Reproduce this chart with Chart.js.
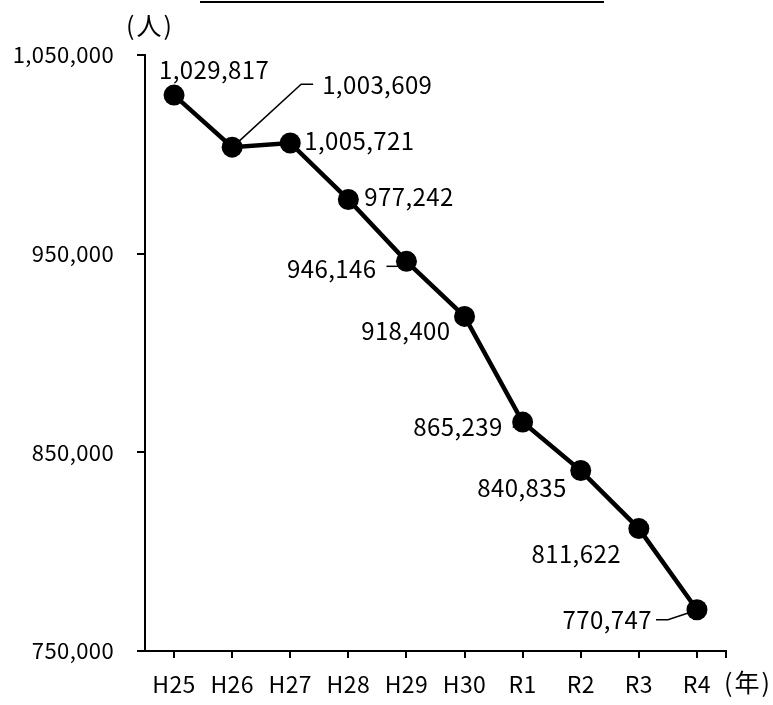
<!DOCTYPE html>
<html lang="ja">
<head>
<meta charset="utf-8">
<script src="https://cdn.jsdelivr.net/npm/chart.js@4"></script>
<style>
  body { margin: 0; background: #fff; }
  canvas { display: block; }
</style>
</head>
<body>
<canvas id="chart" width="773" height="705"></canvas>
<script>
// 年度と人数
const categories = ['H25', 'H26', 'H27', 'H28', 'H29', 'H30', 'R1', 'R2', 'R3', 'R4'];
const population = [1029817, 1003609, 1005721, 977242, 946146, 918400, 865239, 840835, 811622, 770747];
const yTicks = [750000, 850000, 950000, 1050000];

// ラベルの置き場所（点からのずれ、揃え）
const labelPlace = [
  [-15, -25, 'left'],
  [90, -62, 'left'],
  [14, -2, 'left'],
  [16, -3, 'left'],
  [-30, 8, 'right'],
  [-14, 14, 'right'],
  [-20, 5, 'right'],
  [-14, 17, 'right'],
  [-18, 25, 'right'],
  [-45, 10, 'right']
];
// 引き出し線（点からのずれ）
const leaders = {
  1: [[7, -6], [69, -63], [81, -63]],
  4: [[-20, 5], [-7, 5]],
  6: [[-10, 5], [-2, 5]],
  9: [[-41, 10], [-29, 10], [-8, 3]]
};

const FAMILY = '"Noto Sans CJK JP", "Noto Sans", sans-serif';
const fmt = v => v.toLocaleString('en-US');

const extras = {
  id: 'extras',
  beforeDraw(chart) {
    chart.ctx.letterSpacing = '0.4px';
  },
  afterDatasetsDraw(chart) {
    const ctx = chart.ctx;
    const meta = chart.getDatasetMeta(0);
    ctx.save();
    ctx.fillStyle = '#000';
    ctx.strokeStyle = '#000';
    ctx.font = '24px ' + FAMILY;
    ctx.textBaseline = 'middle';

    meta.data.forEach((pt, i) => {
      const [dx, dy, align] = labelPlace[i];
      ctx.textAlign = align;
      ctx.fillText(fmt(population[i]), pt.x + dx, pt.y + dy);
      const ld = leaders[i];
      if (ld) {
        ctx.lineWidth = 1.5;
        ctx.beginPath();
        ld.forEach(([lx, ly], k) => {
          if (k === 0) ctx.moveTo(pt.x + lx, pt.y + ly);
          else ctx.lineTo(pt.x + lx, pt.y + ly);
        });
        ctx.stroke();
      }
    });

    // 単位
    ctx.font = '25px ' + FAMILY;
    ctx.letterSpacing = '2px';
    ctx.textAlign = 'center';
    ctx.fillText('(人)', 150, 25);
    ctx.fillText('(年)', 748, 682);

    // 見出しの下線
    ctx.lineWidth = 2;
    ctx.beginPath();
    ctx.moveTo(200, 2);
    ctx.lineTo(604, 2);
    ctx.stroke();

    // 横軸右端の目盛
    const area = chart.chartArea;
    ctx.beginPath();
    ctx.moveTo(area.right, area.bottom);
    ctx.lineTo(area.right, area.bottom + 7);
    ctx.stroke();
    ctx.restore();
  }
};

new Chart(document.getElementById('chart'), {
  type: 'line',
  data: {
    labels: categories,
    datasets: [{
      data: population,
      borderColor: '#000',
      borderWidth: 4.5,
      backgroundColor: '#000',
      pointRadius: 10.5,
      pointBorderWidth: 0,
      pointBackgroundColor: '#000',
      tension: 0
    }]
  },
  options: {
    responsive: false,
    animation: false,
    layout: { padding: { top: 55, right: 47, left: 0, bottom: 0 } },
    plugins: { legend: { display: false }, tooltip: { enabled: false } },
    scales: {
      x: {
        type: 'category',
        offset: true,
        grid: { drawOnChartArea: false, drawTicks: true, tickLength: 7, color: '#000', lineWidth: 2, offset: false },
        border: { color: '#000', width: 2 },
        ticks: { color: '#000', font: { family: FAMILY, size: 23 }, padding: 12, maxRotation: 0, autoSkip: false },
        afterFit: s => { s.height = 54; }
      },
      y: {
        min: yTicks[0],
        max: yTicks[yTicks.length - 1],
        afterBuildTicks: s => { s.ticks = yTicks.map(v => ({ value: v })); },
        grid: { drawOnChartArea: false, drawTicks: true, tickLength: 8, color: '#000', lineWidth: 2 },
        border: { color: '#000', width: 2 },
        ticks: { color: '#000', font: { family: FAMILY, size: 22 }, padding: 23, callback: v => fmt(v) },
        afterFit: s => { s.width = 145; }
      }
    }
  },
  plugins: [extras]
});
</script>
</body>
</html>
